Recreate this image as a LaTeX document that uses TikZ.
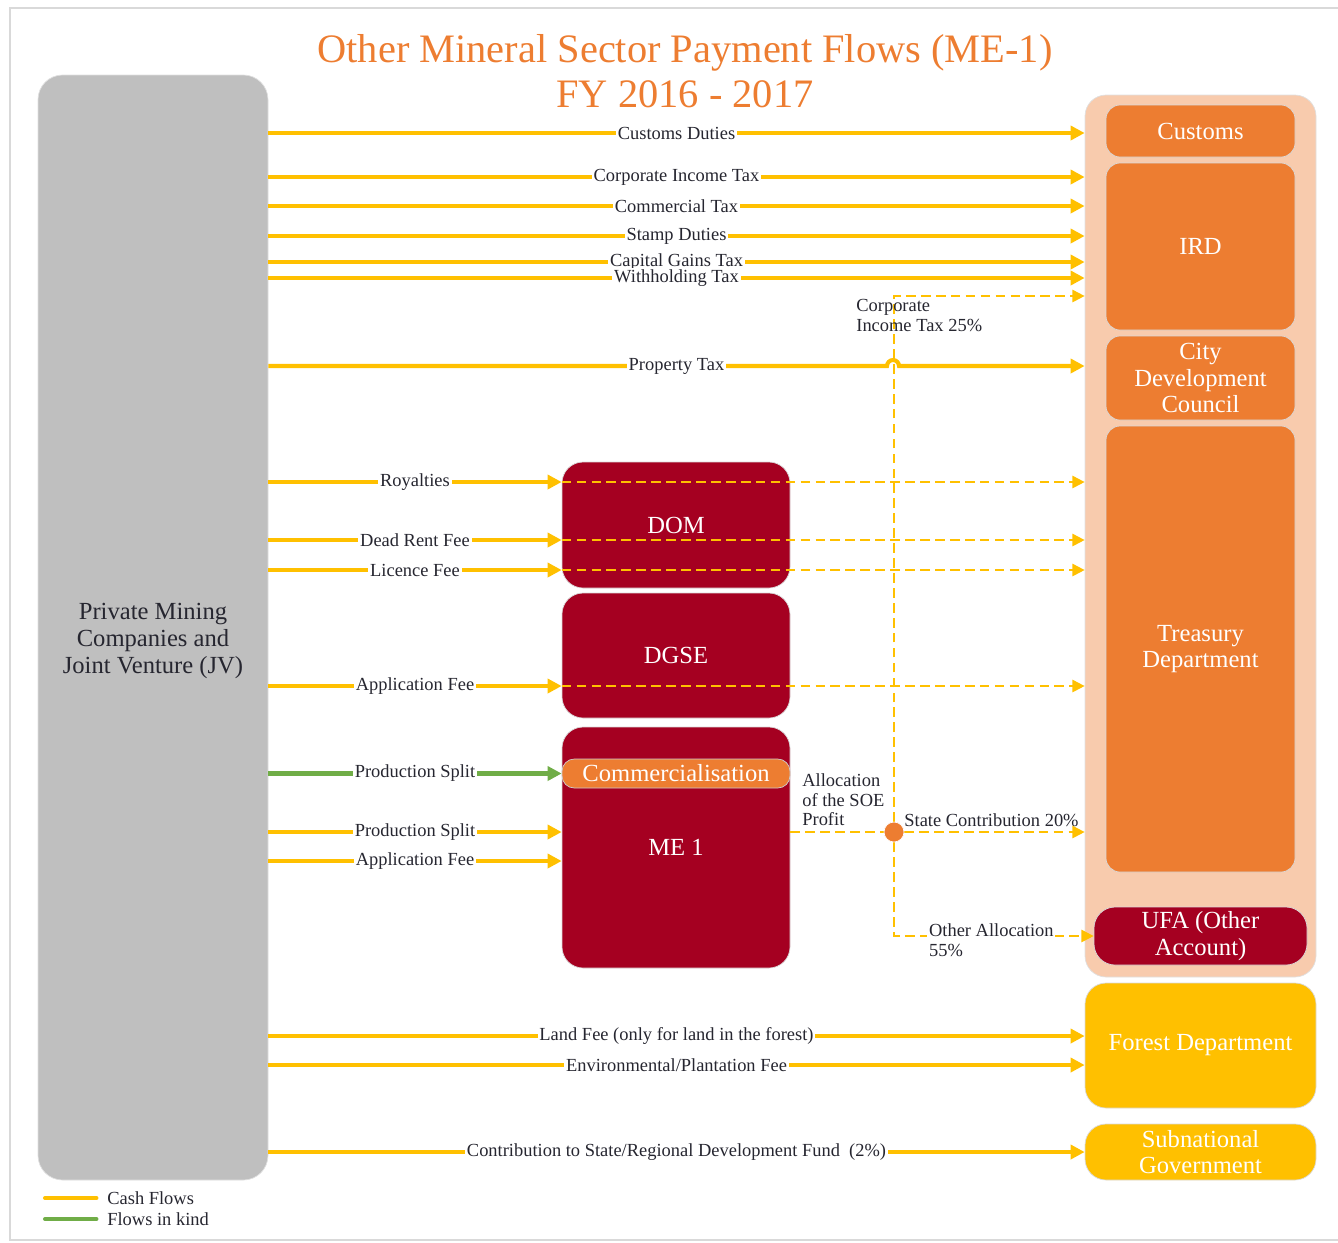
\documentclass[tikz,border=0pt]{standalone}
\usepackage{fontspec}
\setmainfont{Liberation Serif}
\usetikzlibrary{arrows.meta, positioning, calc}
\definecolor{meorange}{HTML}{ED7D31}
\definecolor{mepeach}{HTML}{F8CBAD}
\definecolor{megold}{HTML}{FFC000}
\definecolor{mered}{HTML}{A50021}
\definecolor{megreen}{HTML}{70AD47}
\definecolor{megrey}{HTML}{BFBFBF}
\definecolor{metext}{HTML}{262630}

\begin{document}
\begin{tikzpicture}[
    x=0.02cm, y=-0.02cm,
    size/.style 2 args={minimum width=#1*0.02cm, minimum height=#2*0.02cm},
    base/.style={inner sep=0pt, align=center, text=white,
                 font=\fontsize{14}{15}\selectfont},
    block/.style={base, fill=meorange, draw=black!15, rounded corners=8pt},
    soe/.style={block, fill=mered, rounded corners=12pt},
    gold/.style={block, fill=megold, rounded corners=12pt},
    panel/.style={inner sep=0pt, draw=black!12, rounded corners=12pt},
    cash/.style={megold, line width=2.3pt, -{Triangle[length=8pt, width=8pt]}},
    kind/.style={cash, megreen},
    share/.style={megold, line width=1.1pt, dash pattern=on 5.5pt off 3pt,
                  -{Triangle[length=7pt, width=7pt]}},
    lbl/.style={fill=white, inner sep=1pt, text=metext,
                font=\fontsize{10.5}{11.3}\selectfont},
    note/.style={align=left, inner sep=0pt, anchor=north west, text=metext,
                 font=\fontsize{10.5}{11.3}\selectfont},
    dot/.style={circle, fill=meorange, draw=white, minimum size=0.4cm, inner sep=0pt}]

  \useasboundingbox (0,0) rectangle (1338,1242);
  \draw[black!15, line width=1pt] (1338,8) -- (10,8) -- (10,1240) -- (1338,1240);

  \node[align=center, text=meorange, font=\fontsize{23}{25.5}\selectfont]
       (title) at (685,71) {Other Mineral Sector Payment Flows (ME-1)\\FY 2016 - 2017};

  % ---- payers and agencies ----
  \node[panel, fill=megrey, rounded corners=14pt, size={230}{1105}] (jv) at (153,627.5) {};
  \node[align=center, text=metext, font=\fontsize{14}{15.3}\selectfont]
       (jvname) at (153,641) {Private Mining\\Companies and\\Joint Venture (JV)};
  \node[panel, fill=mepeach, size={231}{882}] (govt) at (1200.5,536) {};

  \node[block, size={189}{52}]  (customs)  at (1200.5,131)   {Customs};
  \node[block, size={189}{167}] (ird)      at (1200.5,246.5) {IRD};
  \node[block, size={189}{84}]  (cdc)      at (1200.5,378)   {City\\Development\\Council};
  \node[block, size={189}{446}] (treasury) at (1200.5,649)   {Treasury\\Department};
  \node[soe,   size={213}{58}]  (ufa)      at (1200.5,936)   {UFA (Other\\Account)};
  \node[gold,  size={231}{125}] (forest)   at (1200.5,1045.5) {Forest Department};
  \node[gold,  size={231}{56}]  (subnat)   at (1200.5,1152)  {Subnational\\Government};

  \node[soe, size={228}{126}] (dom)  at (676,525)   {DOM};
  \node[soe, size={228}{125}] (dgse) at (676,655.5) {DGSE};
  \node[soe, size={228}{241}] (me)   at (676,847.5) {ME 1};
  \node[block, draw=white!60!gray, rounded corners=7pt, size={228}{29}]
       (comm) at (676,773.5) {Commercialisation};

  % ---- direct payments to government ----
  \foreach \y/\txt in {133/{Customs Duties}, 177/{Corporate Income Tax},
                       206/{Commercial Tax}, 236/{Stamp Duties},
                       262/{Capital Gains Tax}, 278/{Withholding Tax},
                       1036/{Land Fee (only for land in the forest)},
                       1065/{Environmental/Plantation Fee},
                       1152/{Contribution to State/Regional Development Fund~ (2\%)}}
    \draw[cash] (jv.east |- 0,\y) -- (govt.west |- 0,\y) node[lbl, midway] {\txt};
  % property tax hops over the dashed allocation line
  \draw[cash] (jv.east |- 0,366) -- (887,366)
        arc[start angle=180, end angle=360, radius=6] -- (govt.west |- 0,366);
  \node[lbl] at ($(jv.east |- 0,366)!0.5!(govt.west |- 0,366)$) {Property Tax};

  % ---- transfers on to the treasury ----
  \foreach \y in {482, 540, 570}
    \draw[share] (dom.west |- 0,\y) -- (govt.west |- 0,\y);
  \draw[share] (dgse.west |- 0,686) -- (govt.west |- 0,686);

  % ---- payments to the agencies ----
  \foreach \y/\txt in {482/Royalties, 540/{Dead Rent Fee}, 570/{Licence Fee}}
    \draw[cash] (jv.east |- 0,\y) -- (dom.west |- 0,\y) node[lbl, midway] {\txt};
  \draw[cash] (jv.east |- 0,686) -- (dgse.west |- 0,686) node[lbl, midway] {Application Fee};
  \draw[kind] (jv.east |- comm) -- (comm.west) node[lbl, midway] {Production Split};
  \draw[cash] (jv.east |- 0,832) -- (me.west |- 0,832) node[lbl, midway] {Production Split};
  \draw[cash] (jv.east |- 0,861) -- (me.west |- 0,861) node[lbl, midway] {Application Fee};

  % ---- allocation of the SOE profit ----
  \node[dot] (split) at (894,832) {};
  \draw[share, -] (me.east |- split) -- (split);
  \draw[share] (split) -- (split |- 0,296) -- (govt.west |- 0,296);
  \draw[share] (split) -- (govt.west |- split);
  \draw[share] (split) |- (ufa.west);
  \node[dot] at (split) {};

  \node[note] (cit) at (856,299) {Corporate\\Income Tax 25\%};
  \node[note, anchor=south west] (state) at (904,827) {State Contribution 20\%};
  \node[note, fill=white, inner sep=1pt] (other) at (927,922) {Other Allocation\\55\%};
  \node[note] (alloc) at (802,773) {Allocation\\of the SOE\\Profit};

  % ---- legend ----
  \coordinate (cashkey) at (45,1198);
  \coordinate (kindkey) at (45,1219);
  \node[note, anchor=west] (cashlbl) at (107,1198) {Cash Flows};
  \node[note, anchor=west] (kindlbl) at (107,1219) {Flows in kind};
  \draw[megold, line width=2.3pt, line cap=round] (cashkey) -- ([xshift=-6pt]cashlbl.west);
  \draw[megreen, line width=2.3pt, line cap=round] (kindkey) -- ([xshift=-6pt]kindlbl.west);
\end{tikzpicture}
\end{document}
